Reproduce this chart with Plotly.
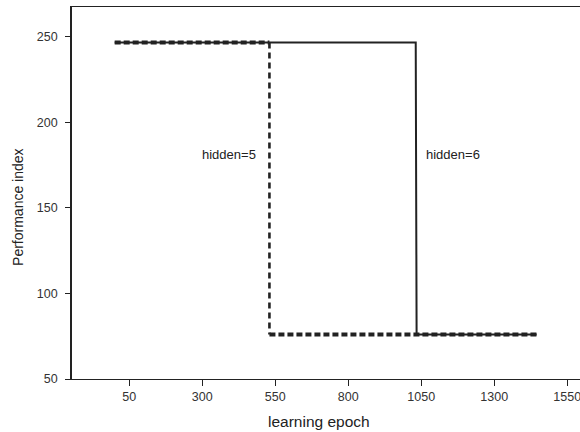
import plotly.graph_objects as go

# Data
epoch_h5 = [0, 530, 530, 1445]
perf_h5 = [246.5, 246.5, 76, 76]
epoch_h6 = [0, 1031, 1034, 1445]
perf_h6 = [246.5, 246.5, 76, 76]

x_ticks = [50, 300, 550, 800, 1050, 1300, 1550]
y_ticks = [50, 100, 150, 200, 250]

labels = ["hidden=5", "hidden=6"]
label_x = [390, 1158]
label_y = [181, 181]

FONT = "Liberation Sans, Arial, sans-serif"
INK = "#222222"

fig = go.Figure()

# hidden=5: horizontal dotted segments and the vertical dashed drop
fig.add_trace(go.Scatter(
    x=epoch_h5[0:2] + [None] + epoch_h5[2:4],
    y=perf_h5[0:2] + [None] + perf_h5[2:4],
    mode="lines", line=dict(color=INK, width=4, dash="6px,3px"),
    connectgaps=False, hoverinfo="skip", showlegend=False))
fig.add_trace(go.Scatter(
    x=epoch_h5[1:3], y=perf_h5[1:3],
    mode="lines", line=dict(color=INK, width=2.6, dash="6px,4px"),
    hoverinfo="skip", showlegend=False))

# hidden=6: solid line
fig.add_trace(go.Scatter(
    x=epoch_h6, y=perf_h6, mode="lines",
    line=dict(color=INK, width=2),
    hoverinfo="skip", showlegend=False))

for t, xv, yv in zip(labels, label_x, label_y):
    fig.add_annotation(x=xv, y=yv, text=t, showarrow=False,
                       xanchor="center", yanchor="middle",
                       font=dict(family=FONT, size=13, color=INK))

# axis titles placed as annotations
fig.add_annotation(xref="paper", yref="paper", x=0.486, y=-0.115,
                   text="learning epoch", showarrow=False,
                   xanchor="center", yanchor="middle",
                   font=dict(family=FONT, size=15.5, color=INK))
fig.add_annotation(xref="paper", yref="paper", x=-0.106, y=0.463,
                   text="Performance index", showarrow=False, textangle=-90,
                   xanchor="center", yanchor="middle",
                   font=dict(family=FONT, size=14, color=INK))

fig.update_layout(
    width=580, height=432,
    margin=dict(l=72, r=0, t=7, b=53, pad=0),
    paper_bgcolor="white", plot_bgcolor="white",
    font=dict(family=FONT, size=12.5, color="#333333"),
    xaxis=dict(range=[-146.2, 1593.6], tickvals=x_ticks,
               ticks="outside", ticklen=6, tickwidth=1, tickcolor=INK,
               ticklabeloverflow="allow",
               showline=True, linecolor=INK, linewidth=1.4, mirror=True,
               showgrid=False, zeroline=False),
    yaxis=dict(range=[50, 267.3], tickvals=y_ticks,
               ticks="outside", ticklen=5, tickwidth=1, tickcolor=INK,
               ticklabelstandoff=5,
               showline=True, linecolor=INK, linewidth=1.8, mirror=False,
               showgrid=False, zeroline=False),
)

fig.write_html("out.html",
               config={"displayModeBar": False, "staticPlot": True},
               post_script="document.body.style.margin='0';"
                           "document.body.style.overflow='hidden';")
